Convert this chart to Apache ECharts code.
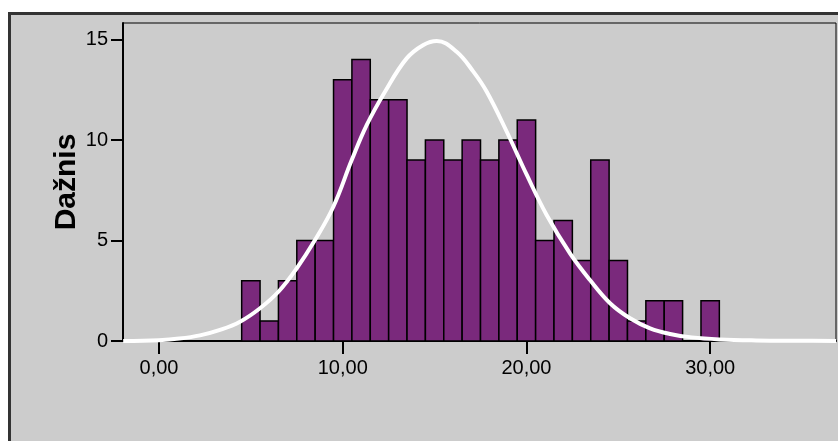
<!DOCTYPE html>
<html>
<head>
<meta charset="utf-8">
<script src="https://cdn.jsdelivr.net/npm/echarts@6/dist/echarts.min.js"></script>
<style>
  html, body { margin: 0; padding: 0; background: #fff; }
  #wrap { position: relative; width: 838px; height: 441px; overflow: hidden; }
  #frame { position: absolute; left: 8px; top: 12px; width: 900px; height: 500px;
           border: 3px solid #333; background: #cccccc; }
  #chart { position: absolute; left: 0; top: 0; width: 838px; height: 441px; }
</style>
</head>
<body>
<div id="wrap">
  <div id="frame"></div>
  <div id="chart"></div>
</div>
<script>
  // histogram bins (centre of each bin, width 1)
  const binCenters = [5, 6, 7, 8, 9, 10, 11, 12, 13, 14, 15, 16, 17, 18, 19, 20, 21, 22, 23, 24, 25, 26, 27, 28, 29, 30];
  const counts = [3, 1, 3, 5, 5, 13, 14, 12, 12, 9, 10, 9, 10, 9, 10, 11, 5, 6, 4, 9, 4, 1, 2, 2, 0, 2];

  // normal curve, points
  const curveX = [-1.95, 0, 1.1, 2.23, 3.32, 4.41, 5.5, 6.5, 7.5, 8.49, 9.49, 10.49, 11.31, 12.3, 13.48, 14.39, 15.12,
                  16.2, 17.11, 17.84, 18.93, 20.02, 21.1, 22.37, 23.46, 24.55, 25.64, 26.73, 27.82, 29, 30.5, 32.5, 35, 36.85];
  const curveY = [0, 0.04, 0.12, 0.28, 0.55, 0.96, 1.63, 2.45, 3.62, 5.02, 6.68, 9.0, 10.75, 12.4, 14.06, 14.73, 14.93,
                  14.39, 13.4, 12.4, 10.41, 8.26, 6.27, 4.36, 3.03, 1.88, 1.13, 0.63, 0.35, 0.18, 0.08, 0.03, 0.01, 0];

  const xTicks = [0, 10, 20, 30];
  const yTicks = [0, 5, 10, 15];

  const font = 'Liberation Sans, Arial, sans-serif';
  const chart = echarts.init(document.getElementById('chart'));

  let option = {
    animation: false,
    grid: {
      left: 123, top: 23, right: 2, bottom: 100,
      show: true,
      borderColor: '#000',
      borderWidth: 1
    },
    xAxis: {
      type: 'value',
      min: -1.96,
      max: 36.85,
      axisLine: {show: true, onZero: false, lineStyle: {color: '#000', width: 2}},
      axisTick: {show: true, customValues: xTicks, length: 13, lineStyle: {color: '#000', width: 2}},
      axisLabel: {
        customValues: xTicks,
        margin: 17,
        color: '#000',
        fontFamily: font,
        fontSize: 20,
        formatter: v => v.toFixed(2).replace('.', ',')
      },
      splitLine: {show: false}
    },
    yAxis: {
      type: 'value',
      min: 0,
      max: 15.82,
      name: 'Dažnis',
      nameLocation: 'middle',
      nameGap: 41,
      nameMoveOverlap: false,
      nameTextStyle: {color: '#000', fontFamily: font, fontSize: 30, fontWeight: 'bold'},
      axisLine: {show: true, onZero: false, lineStyle: {color: '#000', width: 2}},
      axisTick: {show: true, customValues: yTicks, length: 12, lineStyle: {color: '#000', width: 2}},
      axisLabel: {
        customValues: yTicks,
        margin: 15,
        color: '#000',
        fontFamily: font,
        fontSize: 20
      },
      splitLine: {show: false}
    },
    series: [{
      type: 'custom',
      data: binCenters.map((c, i) => [c, counts[i]]),
      renderItem: function (params, api) {
        const c = api.value(0), n = api.value(1);
        if (!n) return;
        const p0 = api.coord([c - 0.5, n]);
        const p1 = api.coord([c + 0.5, 0]);
        return {
          type: 'rect',
          shape: {x: p0[0], y: p0[1], width: p1[0] - p0[0], height: p1[1] - p0[1]},
          style: {fill: '#7a297c', stroke: '#000', lineWidth: 1.5}
        };
      },
      z: 2
    }, {
      type: 'line',
      data: curveX.map((x, i) => [x, curveY[i]]),
      smooth: 0.4,
      symbol: 'none',
      lineStyle: {color: '#fff', width: 4},
      z: 3
    }]
  };
  chart.setOption(option);
</script>
</body>
</html>
